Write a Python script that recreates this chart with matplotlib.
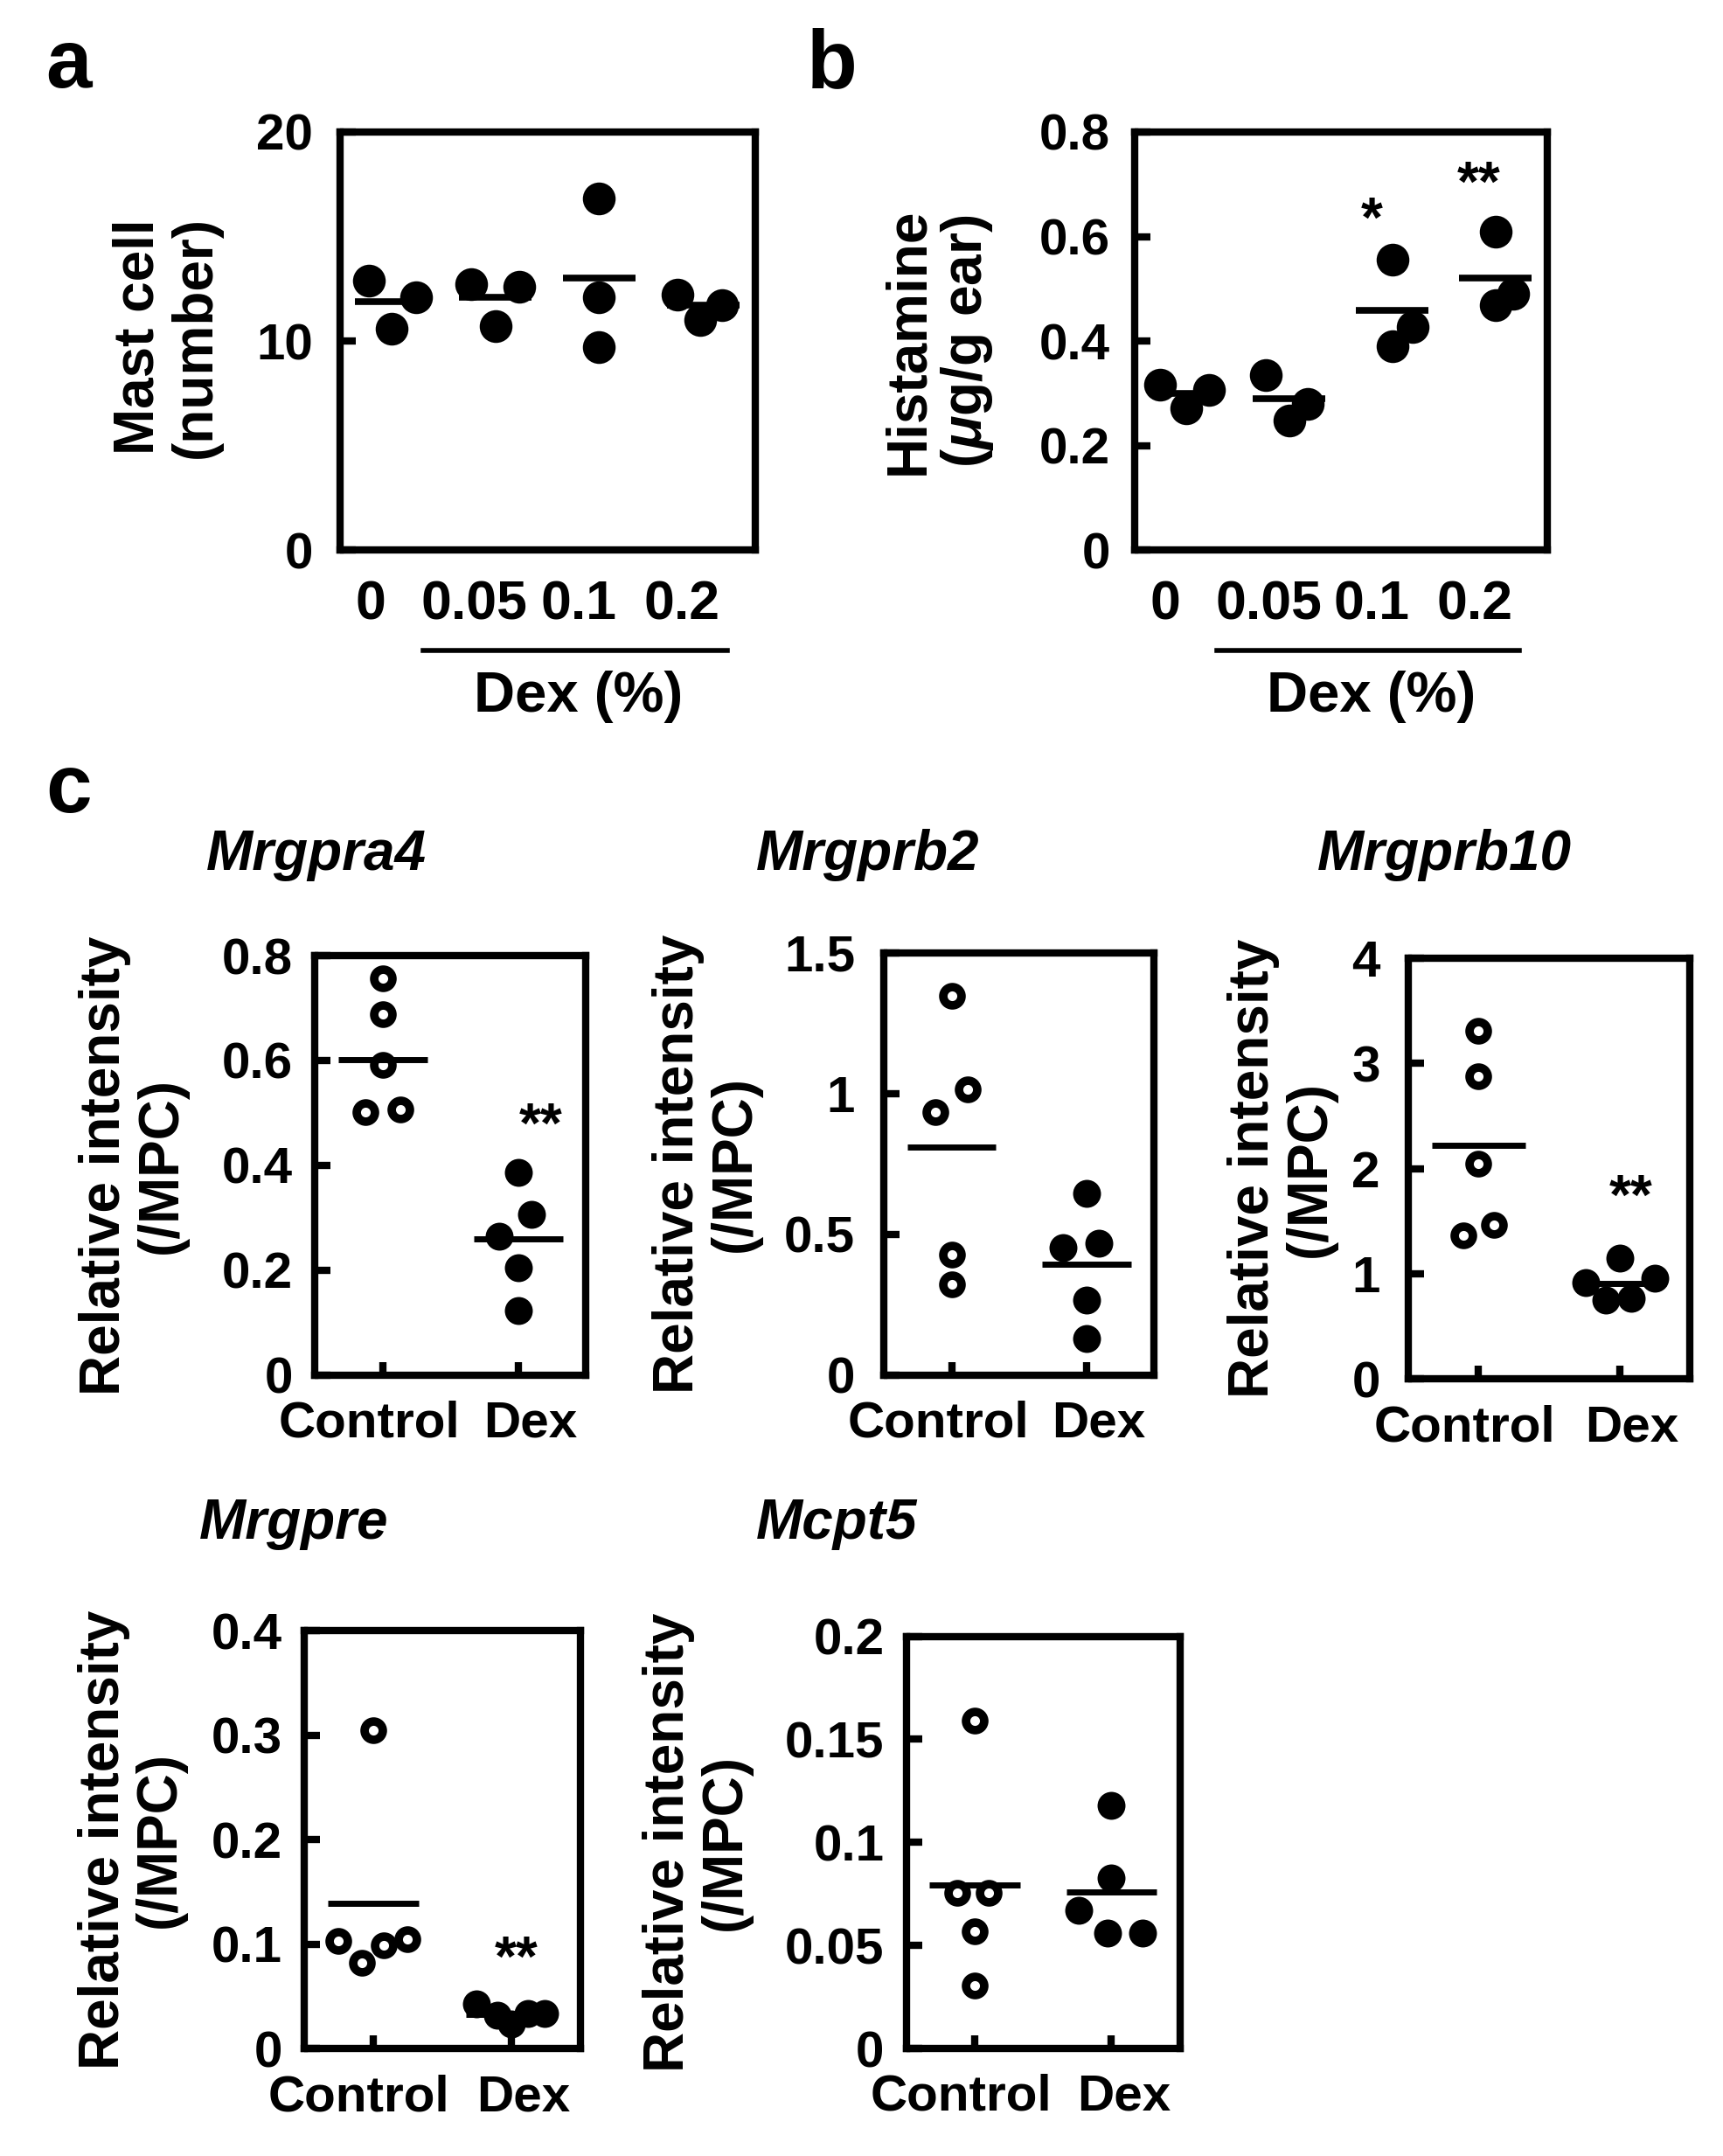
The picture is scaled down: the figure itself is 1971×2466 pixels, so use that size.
import numpy as np
import matplotlib.pyplot as plt

plt.rcParams['font.family'] = ['Liberation Sans', 'DejaVu Sans']
plt.rcParams['font.weight'] = 'bold'
plt.rcParams['mathtext.fontset'] = 'custom'
plt.rcParams['mathtext.it'] = 'Liberation Sans:italic:bold'
plt.rcParams['mathtext.rm'] = 'Liberation Sans:bold'

# ---- panel a / b : Dex dose ----
dex_groups = ['0', '0.05', '0.1', '0.2']

mast_cell = [[12.9, 12.1, 10.6], [12.7, 12.6, 10.7], [16.8, 12.1, 9.7], [12.2, 11.7, 11.0]]
mast_cell_mean = [11.9, 12.1, 13.0, 11.7]
mast_jit = [[-0.22, 0.24, 0.0], [-0.23, 0.23, 0.0], [0.0, 0.0, 0.0], [-0.25, 0.18, -0.03]]

histamine = [[0.317, 0.307, 0.271], [0.335, 0.280, 0.248], [0.555, 0.427, 0.390], [0.610, 0.491, 0.468]]
histamine_mean = [0.30, 0.289, 0.459, 0.520]
hist_jit = [[-0.25, 0.22, 0.0], [-0.23, 0.18, 0.0], [0.0, 0.2, 0.0], [0.0, 0.17, 0.0]]
hist_stars = ['', '', '*', '**']
hist_star_y = [0, 0, 0.628, 0.697]

# ---- panel c : microarray ----
groups_c = ['Control', 'Dex']

mrgpra4_ctrl = [0.757, 0.689, 0.591, 0.502, 0.506]
mrgpra4_dex = [0.387, 0.306, 0.264, 0.204, 0.123]
mrgpra4_mean = [0.602, 0.260]

mrgprb2_ctrl = [1.347, 1.016, 0.935, 0.427, 0.323]
mrgprb2_dex = [0.645, 0.452, 0.468, 0.266, 0.129]
mrgprb2_mean = [0.81, 0.395]

mrgprb10_ctrl = [3.31, 2.88, 2.05, 1.37, 1.47]
mrgprb10_dex = [1.15, 0.92, 0.96, 0.75, 0.77]
mrgprb10_mean = [2.22, 0.91]

mrgpre_ctrl = [0.305, 0.103, 0.082, 0.099, 0.105]
mrgpre_dex = [0.043, 0.032, 0.024, 0.034, 0.034]
mrgpre_mean = [0.139, 0.033]

mcpt5_ctrl = [0.159, 0.0757, 0.0757, 0.057, 0.0307]
mcpt5_dex = [0.118, 0.083, 0.067, 0.056, 0.056]
mcpt5_mean = [0.0794, 0.076]

W, H = 1253.0, 1568.0  # layout measured on the reduced reference


def box(x0, y0, x1, y1):
    return [x0 / W, 1 - y1 / H, (x1 - x0) / W, (y1 - y0) / H]


fig = plt.figure(figsize=(19.71, 24.66), dpi=100)
LW = 6


def frame(ax, pad):
    for s in ax.spines.values():
        s.set_linewidth(LW)
    ax.tick_params(axis='y', direction='in', length=13, width=LW, pad=pad, labelsize=42)


def dose_panel(ax, vals, means, jit, ylim, yticks, yticklabels, pad):
    pos = np.arange(len(dex_groups))
    for i in range(len(pos)):
        ax.plot(pos[i] + np.array(jit[i]), vals[i], 'o', color='black', ms=27, mew=0, zorder=3)
        ax.plot([pos[i] - 0.35, pos[i] + 0.35], [means[i], means[i]], color='black', lw=5.5,
                solid_capstyle='butt', zorder=2)
    ax.set_xlim(-0.5, 3.5)
    ax.set_ylim(*ylim)
    ax.set_yticks(yticks, yticklabels)
    frame(ax, pad)
    ax.set_xticks(pos - 0.2, dex_groups, fontsize=45)
    ax.tick_params(axis='x', length=0, pad=24)
    tr = ax.get_xaxis_transform()
    ax.plot([0.3, 3.23], [-0.24, -0.24], color='black', lw=4, transform=tr, clip_on=False)
    ax.text(1.8, -0.352, 'Dex (%)', transform=tr, ha='center', va='center', fontsize=47)


ax_a = fig.add_axes(box(247, 96, 549, 400))
dose_panel(ax_a, mast_cell, mast_cell_mean, mast_jit, (0, 20), [0, 10, 20], ['0', '10', '20'], 22)
fig.text(0.097, 1 - 245 / H, 'Mast cell\n(number)', rotation=90, ha='center', va='center',
         fontsize=46, linespacing=1.1)

ax_b = fig.add_axes(box(825, 96, 1125, 400))
dose_panel(ax_b, histamine, histamine_mean, hist_jit, (0, 0.8), [0, 0.2, 0.4, 0.6, 0.8],
           ['0', '0.2', '0.4', '0.6', '0.8'], 20)
for i, s in enumerate(hist_stars):
    if s:
        ax_b.text(i - 0.2 if s == '*' else i - 0.16, hist_star_y[i], s, ha='center', va='center', fontsize=46)
fig.text(0.545, 1 - 248 / H, 'Histamine\n(' + r'$\mu$' + 'g/g ear)', rotation=90, ha='center',
         va='center', fontsize=46, linespacing=1.1)

fig.text(50 / W, 1 - 48 / H, 'a', fontsize=68, ha='center', va='center')
fig.text(605 / W, 1 - 48 / H, 'b', fontsize=68, ha='center', va='center')
fig.text(50 / W, 1 - 575 / H, 'c', fontsize=68, ha='center', va='center')


def gene_panel(rect, title, title_xy, ylab_x, ctrl, dex, means, cj, dj, ylim, yticks, ytl, pad,
               star=None):
    ax = fig.add_axes(rect)
    ax.plot(0 + np.array(cj), ctrl, 'o', ms=15, mfc='white', mec='black', mew=7, zorder=3)
    ax.plot(1 + np.array(dj), dex, 'o', ms=23, color='black', mew=0, zorder=5)
    for i in range(2):
        ax.plot([i - 0.33, i + 0.33], [means[i], means[i]], color='black', lw=5,
                solid_capstyle='butt', zorder=4)
    ax.set_xlim(-0.5, 1.5)
    ax.set_ylim(*ylim)
    ax.set_yticks(yticks, ytl)
    frame(ax, pad)
    ax.set_xticks([0, 1], ['', ''])
    ax.tick_params(axis='x', direction='in', length=11, width=LW)
    tr = ax.get_xaxis_transform()
    for xpos, lab in zip([-0.1, 1.09], groups_c):
        ax.text(xpos, -0.06, lab, transform=tr, ha='center', va='top', fontsize=42)
    if star:
        ax.text(star[0], star[1], '**', ha='center', va='center', fontsize=46)
    fig.text(title_xy[0] / W, 1 - title_xy[1] / H, title, style='italic', fontsize=46,
             ha='left', va='center')
    yc = rect[1] + rect[3] / 2
    fig.text(ylab_x / W, yc, 'Relative intensity\n(/MPC)', rotation=90, ha='center', va='center',
             fontsize=46, linespacing=1.1)
    return ax


gene_panel(box(229, 695, 426, 1000), 'Mrgpra4', (150, 622), 97,
           mrgpra4_ctrl, mrgpra4_dex, mrgpra4_mean,
           [0, 0, 0, -0.13, 0.13], [0, 0.1, -0.14, 0, 0],
           (0, 0.8), [0, 0.2, 0.4, 0.6, 0.8], ['0', '0.2', '0.4', '0.6', '0.8'], 18,
           star=(1.17, 0.472))

gene_panel(box(643, 693, 839, 1000), 'Mrgprb2', (550, 622), 514,
           mrgprb2_ctrl, mrgprb2_dex, mrgprb2_mean,
           [0, 0.12, -0.12, 0, 0], [0, -0.17, 0.09, 0, 0],
           (0, 1.5), [0, 0.5, 1, 1.5], ['0', '0.5', '1', '1.5'], 24)

gene_panel(box(1024, 697, 1229, 1003), 'Mrgprb10', (958, 622), 932,
           mrgprb10_ctrl, mrgprb10_dex, mrgprb10_mean,
           [0, 0, 0, -0.11, 0.11], [0, -0.24, 0.25, -0.1, 0.08],
           (0, 4), [0, 1, 2, 3, 4], ['0', '1', '2', '3', '4'], 23,
           star=(1.08, 1.71))

gene_panel(box(221, 1186, 422, 1490), 'Mrgpre', (145, 1108), 96,
           mrgpre_ctrl, mrgpre_dex, mrgpre_mean,
           [0, -0.25, -0.08, 0.08, 0.25], [-0.25, -0.1, 0, 0.12, 0.24],
           (0, 0.4), [0, 0.1, 0.2, 0.3, 0.4], ['0', '0.1', '0.2', '0.3', '0.4'], 18,
           star=(1.04, 0.084))

gene_panel(box(659, 1190, 858, 1490), 'Mcpt5', (550, 1108), 507,
           mcpt5_ctrl, mcpt5_dex, mcpt5_mean,
           [0, -0.13, 0.1, 0, 0], [0, 0, -0.24, -0.03, 0.23],
           (0, 0.2), [0, 0.05, 0.1, 0.15, 0.2], ['0', '0.05', '0.1', '0.15', '0.2'], 18)

fig.savefig('out.png', dpi=100)
